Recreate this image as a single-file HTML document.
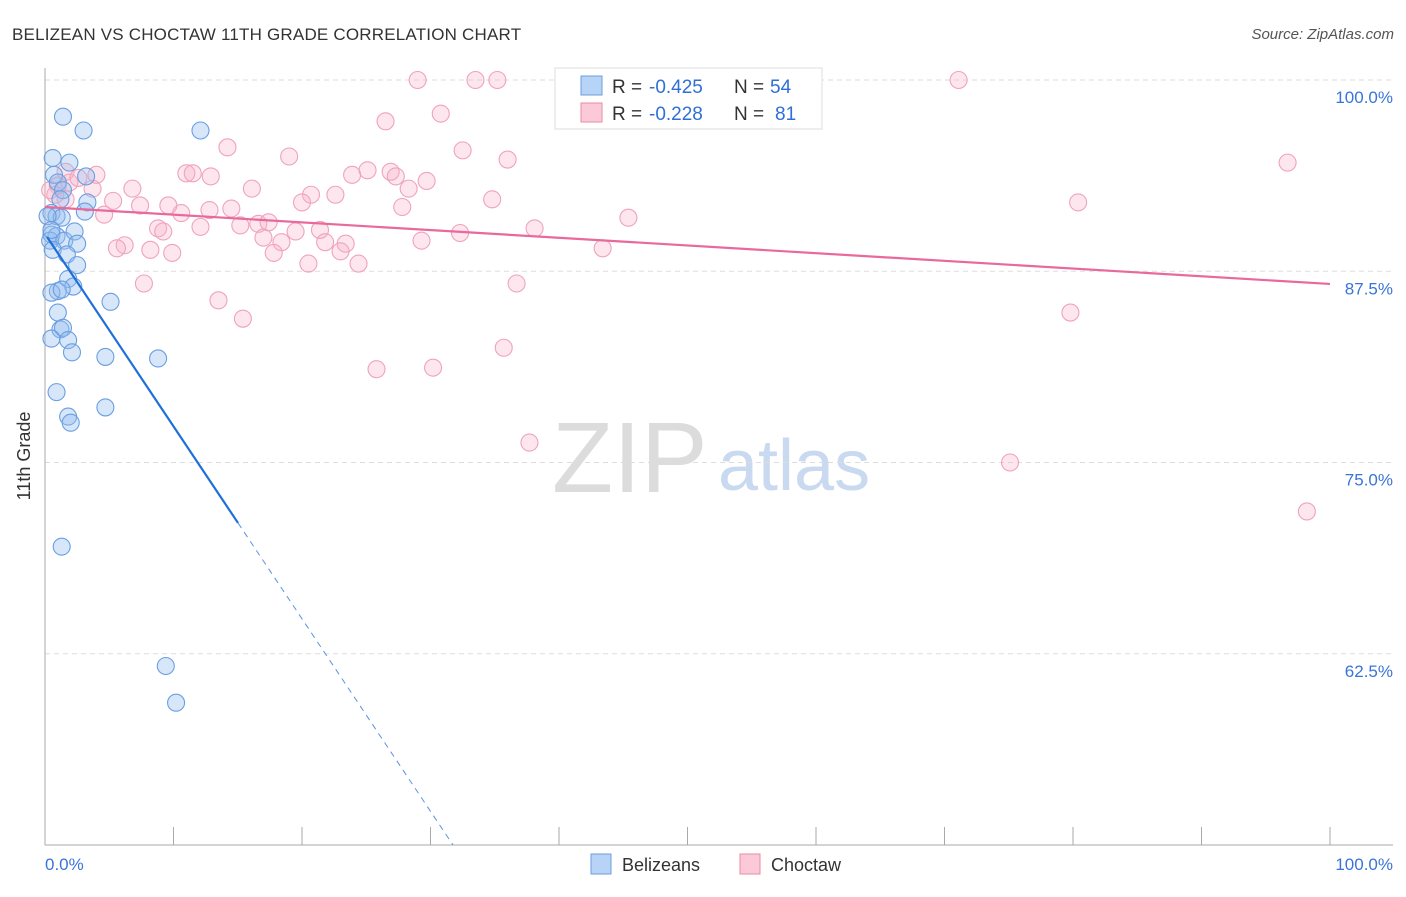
<!DOCTYPE html>
<html><head><meta charset="utf-8"><style>
body{margin:0;background:#fff;font-family:"Liberation Sans",sans-serif;}
svg text{font-family:"Liberation Sans",sans-serif;}
</style></head><body>
<svg id="chart" width="1406" height="892">
<text x="12" y="40" font-size="17" fill="#333" letter-spacing="0.2">BELIZEAN VS CHOCTAW 11TH GRADE CORRELATION CHART</text>
<text x="1394" y="39" font-size="15" fill="#555" text-anchor="end" font-style="italic">Source: ZipAtlas.com</text>
<text x="30" y="456" font-size="18" fill="#333" text-anchor="middle" transform="rotate(-90 30 456)">11th Grade</text>
<g><text x="552" y="492" font-size="100" fill="#dcdcdc" font-family="Liberation Serif,serif">ZIP</text><text x="718" y="490" font-size="72" fill="#c8d9f0">atlas</text></g>
<g id="grid"></g><g id="pts"></g><g id="lines"></g>
<g>
<rect x="555" y="68" width="267" height="61" fill="#fff" stroke="#ddd"/>
<rect x="581" y="76" width="21" height="19" fill="#b7d3f5" stroke="#6a9fe0"/>
<rect x="581" y="103" width="21" height="19" fill="#fbc9d8" stroke="#e88aa8"/>
<text x="612" y="93" font-size="19" fill="#333">R =</text><text x="649" y="93" font-size="19" fill="#2f6fd6">-0.425</text>
<text x="734" y="93" font-size="19" fill="#333">N =</text><text x="770" y="93" font-size="19" fill="#2f6fd6">54</text>
<text x="612" y="120" font-size="19" fill="#333">R =</text><text x="649" y="120" font-size="19" fill="#2f6fd6">-0.228</text>
<text x="734" y="120" font-size="19" fill="#333">N =</text><text x="775" y="120" font-size="19" fill="#2f6fd6">81</text>
</g>
<g>
<rect x="591" y="854" width="20" height="20" fill="#b7d3f5" stroke="#6a9fe0"/>
<text x="622" y="871" font-size="18" fill="#333">Belizeans</text>
<rect x="740" y="854" width="20" height="20" fill="#fbc9d8" stroke="#e88aa8"/>
<text x="771" y="871" font-size="18" fill="#333">Choctaw</text>
</g>
</svg>
<script>
const yTicks=[100,87.5,75,62.5];
const yTickLabels=["100.0%","87.5%","75.0%","62.5%"];
const xTicks=[0,10,20,30,40,50,60,70,80,90,100];
const blueX=[1.4,3.0,12.1,0.6,1.9,0.7,1.0,1.4,3.2,3.3,3.1,1.2,0.5,0.9,1.3,0.5,0.9,0.4,1.5,2.3,2.5,0.6,1.7,2.5,1.8,2.2,1.0,0.5,1.3,5.1,1.0,1.2,1.4,1.8,0.5,2.1,4.7,8.8,0.9,4.7,1.8,2.0,1.3,9.4,10.2,0.2,0.5];
const blueY=[97.6,96.7,96.7,94.9,94.6,93.8,93.3,92.8,93.7,92.0,91.4,92.2,91.3,91.1,91.0,89.9,89.8,89.5,89.5,90.1,89.3,88.9,88.6,87.9,87.0,86.5,86.2,86.1,86.3,85.5,84.8,83.7,83.8,83.0,83.1,82.2,81.9,81.8,79.6,78.6,78.0,77.6,69.5,61.7,59.3,91.1,90.2];
const pinkX=[29.0,33.5,35.2,71.1,30.8,26.5,14.2,19.0,32.5,36.0,25.1,26.9,27.3,23.9,29.7,28.3,20.7,22.6,34.8,27.8,20.0,11.0,11.5,12.9,16.1,14.5,10.6,9.6,12.8,12.1,15.2,16.6,17.4,17.0,18.4,19.5,21.4,21.8,23.4,23.0,17.8,20.5,24.4,29.3,32.3,38.1,45.4,43.4,80.4,96.7,13.5,15.4,7.7,36.7,35.7,25.8,30.2,37.7,79.8,75.1,98.2,1.0,1.6,1.6,1.9,3.7,4.0,5.3,4.6,6.8,7.4,6.2,5.6,8.2,8.8,9.2,9.9,0.8,2.6,0.4];
const pinkY=[100,100,100,100,97.8,97.3,95.6,95.0,95.4,94.8,94.1,94.0,93.7,93.8,93.4,92.9,92.5,92.5,92.2,91.7,92.0,93.9,93.9,93.7,92.9,91.6,91.3,91.8,91.5,90.4,90.5,90.6,90.7,89.7,89.4,90.1,90.2,89.4,89.3,88.8,88.7,88.0,88.0,89.5,90.0,90.3,91.0,89.0,92.0,94.6,85.6,84.4,86.7,86.7,82.5,81.1,81.2,76.3,84.8,75.0,71.8,93.1,94.0,92.2,93.3,92.9,93.8,92.1,91.2,92.9,91.8,89.2,89.0,88.9,90.3,90.1,88.7,92.5,93.6,92.8];
const blueTrend=[[0.16,89.74],[15.02,71.05],[31.75,50]];
const pinkTrend=[[0,91.7],[100,86.67]];
const NS="http://www.w3.org/2000/svg";
const X=v=>45+v*12.85, Y=v=>80+(100-v)*15.3;
function mk(tag,attrs,parent){const e=document.createElementNS(NS,tag);for(const k in attrs)e.setAttribute(k,attrs[k]);parent.appendChild(e);return e;}
const grid=document.getElementById('grid'),pts=document.getElementById('pts'),lines=document.getElementById('lines');
yTicks.forEach((t,i)=>{
 const l=mk('line',{x1:45,x2:1393,y1:Y(t),y2:Y(t),stroke:'#ddd','stroke-dasharray':'5,4'},grid);
 
 
 const tx=mk('text',{x:1393,y:Y(t)+23,'font-size':17,fill:'#3a74d8','text-anchor':'end'},grid);tx.textContent=yTickLabels[i];
 
 
});
const ax=mk('line',{x1:45,x2:45,y1:68,y2:845,stroke:'#aaa'},grid);


const bx=mk('line',{x1:45,x2:1393,y1:845,y2:845,stroke:'#aaa'},grid);


xTicks.forEach(t=>{const l=mk('line',{x1:X(t),x2:X(t),y1:827,y2:845,stroke:'#aaa'},grid);
 
 });
const xl0=mk('text',{x:45,y:870,'font-size':17,fill:'#3a74d8'},grid);xl0.textContent='0.0%';


const xl1=mk('text',{x:1393,y:870,'font-size':17,fill:'#3a74d8','text-anchor':'end'},grid);xl1.textContent='100.0%';


pinkX.forEach((x,i)=>{const c=mk('circle',{cx:X(x),cy:Y(pinkY[i]),r:8.5,fill:'rgba(248,178,200,0.32)',stroke:'#efa3bc','stroke-width':1.1},pts);
 
 });
blueX.forEach((x,i)=>{const c=mk('circle',{cx:X(x),cy:Y(blueY[i]),r:8.5,fill:'rgba(150,190,240,0.38)',stroke:'#6a9fe0','stroke-width':1.1},pts);
 
 });
const pl=mk('line',{x1:X(pinkTrend[0][0]),y1:Y(pinkTrend[0][1]),x2:X(pinkTrend[1][0]),y2:Y(pinkTrend[1][1]),stroke:'#e8699a','stroke-width':2.2},lines);


const bl=mk('line',{x1:X(blueTrend[0][0]),y1:Y(blueTrend[0][1]),x2:X(blueTrend[1][0]),y2:Y(blueTrend[1][1]),stroke:'#1f6fd8','stroke-width':2.2},lines);


const bd=mk('line',{x1:X(blueTrend[1][0]),y1:Y(blueTrend[1][1]),x2:X(blueTrend[2][0]),y2:Y(blueTrend[2][1]),stroke:'#5b93de','stroke-width':1,'stroke-dasharray':'6,5'},lines);


</script>
</body></html>
